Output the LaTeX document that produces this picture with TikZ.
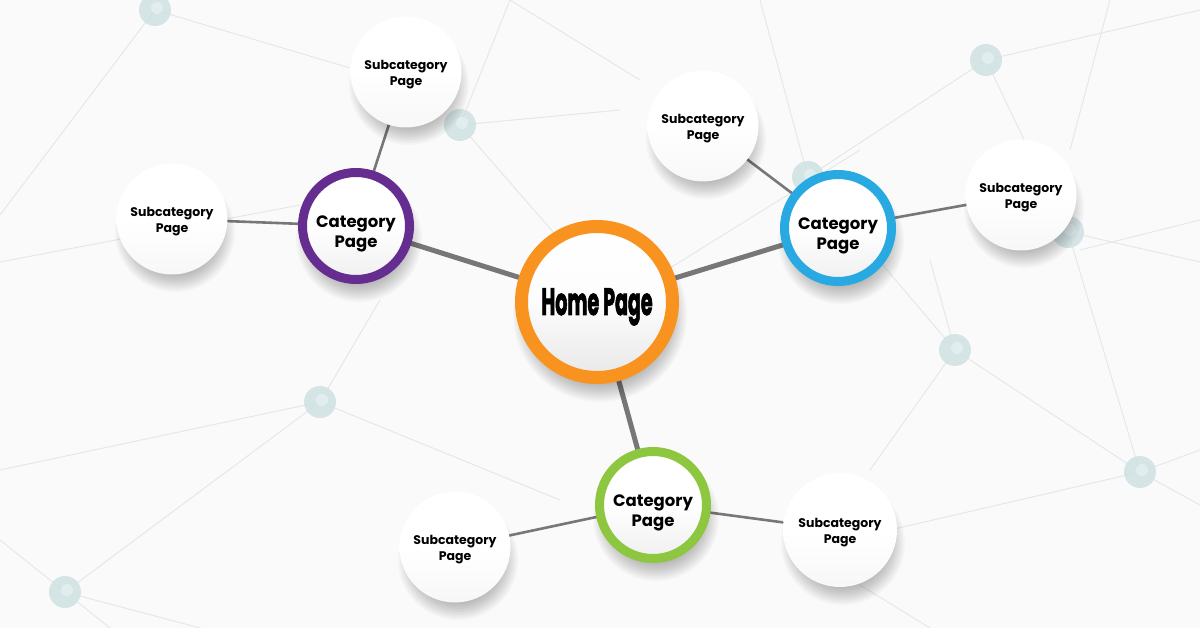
\documentclass[tikz,border=0pt]{standalone}
\usepackage{fontspec}
\usepackage{graphicx}
\setmainfont{Poppins}
\newfontfamily\homefont{Poppins}[BoldFeatures={FakeBold=2.5}]
\usetikzlibrary{calc}
\definecolor{bgc}{HTML}{FAFAFA}
\definecolor{netc}{HTML}{E6E8E8}
\definecolor{dotc}{HTML}{CFE2E3}
\definecolor{dotin}{HTML}{E4F0F0}
\definecolor{orng}{HTML}{F7931E}
\definecolor{purp}{HTML}{662D91}
\definecolor{blu}{HTML}{29A9E1}
\definecolor{grn}{HTML}{8DC63F}
\definecolor{conn}{HTML}{777777}
\newcommand{\twol}[4]{\raisebox{#3}[0pt][0pt]{\begin{tabular}{@{}c@{}}#1\\[#4]#2\end{tabular}}}
% soft drop shadow: centre coordinate, radius
\newcommand{\softsh}[2]{%
  \foreach \k in {0,...,14} {
    \fill[black, opacity=0.022] ($(#1)+(3,13)$) circle ({#2+8-1.6*\k});
  }}
\tikzset{
  net/.style={netc, line width=1pt},
  dotnode/.style={circle, minimum size=32pt, inner sep=0, fill=dotc, fill opacity=0.85},
  mainlink/.style={conn, line width=5pt},
  sublink/.style={conn, line width=2.6pt},
  sub/.style={circle, minimum size=111pt, inner sep=0, align=center,
    top color=white, bottom color=white!97!black, middle color=white,
    font=\fontsize{12.5}{14}\selectfont\bfseries},
  cat/.style={circle, minimum size=107pt, inner sep=0, align=center, line width=9pt,
    top color=white, bottom color=white!94!black, middle color=white,
    font=\fontsize{16.5}{19}\selectfont\bfseries},
  homenode/.style={circle, minimum size=151pt, inner sep=0, align=center, line width=13pt, draw=orng,
    top color=white, bottom color=white!91!black, middle color=white!99!black}
}
\begin{document}
\begin{tikzpicture}[x=1pt, y=-1pt]
\fill[bgc] (0,0) rectangle (1200,628);
\useasboundingbox (0,0) rectangle (1200,628);
% background network
\coordinate (d1) at (155,10);
\coordinate (d2) at (460,125);
\coordinate (d3) at (808,177);
\coordinate (d4) at (986,60);
\coordinate (d5) at (1068,232);
\coordinate (d6) at (955,350);
\coordinate (d7) at (1140,472);
\coordinate (d8) at (320,402);
\coordinate (d9) at (65,592);
\draw[net] (d1) -- (0,215);
\draw[net] (d1) -- (350,68);
\draw[net] (d2) -- (510,0);
\draw[net] (d2) -- (560,240);
\draw[net] (d2) -- (620,110);
\draw[net] (0,262) -- (300,205);
\draw[net] (d8) -- (380,300);
\draw[net] (d8) -- (0,470);
\draw[net] (d8) -- (d9);
\draw[net] (d8) -- (560,500);
\draw[net] (d9) -- (0,540);
\draw[net] (d9) -- (200,628);
\draw[net] (d9) -- (110,628);
\draw[net] (d3) -- (d4);
\draw[net] (d3) -- (760,0);
\draw[net] (d4) -- (1200,10);
\draw[net] (d4) -- (d5);
\draw[net] (1110,0) -- (1070,150);
\draw[net] (d5) -- (1200,262);
\draw[net] (d5) -- (d7);
\draw[net] (1080,250) -- (1200,220);
\draw[net] (d3) -- (d6);
\draw[net] (d6) -- (870,470);
\draw[net] (d6) -- (d7);
\draw[net] (d6) -- (930,260);
\draw[net] (d7) -- (890,530);
\draw[net] (d7) -- (1200,450);
\draw[net] (d7) -- (1200,505);
\draw[net] (860,585) -- (930,628);
\draw[net] (670,268) -- (860,150);
\draw[net] (510,0) -- (640,80);
\foreach \d in {d1,d2,d3,d4,d5,d6,d7,d8,d9} {
  \node[dotnode] at (\d) {};
  \fill[dotin, opacity=0.8] ($(\d)+(2,-2)$) circle (6pt);
}
% centres
\coordinate (ch) at (597,302);
\coordinate (cp) at (356,226);
\coordinate (cb) at (838,228);
\coordinate (cg) at (653,505);
\coordinate (s1) at (406,72);
\coordinate (s2) at (172,219);
\coordinate (s3) at (703,126);
\coordinate (s4) at (1021,195);
\coordinate (s5) at (455,547);
\coordinate (s6) at (840,530);
% connectors
\draw[mainlink] (ch) -- (cp);
\draw[mainlink] (ch) -- (cb);
\draw[mainlink] (ch) -- (cg);
\draw[sublink] (cp) -- (s1);
\draw[sublink] (cp) -- (s2);
\draw[sublink] (cb) -- (s3);
\draw[sublink] (cb) -- (s4);
\draw[sublink] (cg) -- (s5);
\draw[sublink] (cg) -- (s6);
% shadows
\foreach \c in {s1,s2,s3,s4,s5} {\softsh{\c}{52}}
\softsh{s6}{54}
\foreach \c in {cp,cb,cg} {\softsh{\c}{55}}
\softsh{ch}{79}
% nodes
\node[sub] (n1) at (s1) {\twol{Subcategory}{Page}{-5.5pt}{1.5pt}};
\node[sub] (n2) at (s2) {\twol{Subcategory}{Page}{-5.5pt}{1.5pt}};
\node[sub] (n3) at (s3) {\twol{Subcategory}{Page}{-5.5pt}{1.5pt}};
\node[sub] (n4) at (s4) {\twol{Subcategory}{Page}{-5.5pt}{1.5pt}};
\node[sub] (n5) at (s5) {\twol{Subcategory}{Page}{-5.5pt}{1.5pt}};
\node[sub, minimum size=114pt] (n6) at (s6) {\twol{Subcategory}{Page}{-5.5pt}{1.5pt}};
\node[cat, draw=purp] (np) at (cp) {\twol{Category}{Page}{-12pt}{1pt}};
\node[cat, draw=blu] (nb) at (cb) {\twol{Category}{Page}{-12pt}{1pt}};
\node[cat, draw=grn] (ng) at (cg) {\twol{Category}{Page}{-12pt}{1pt}};
\node[homenode] (nh) at (ch) {\raisebox{-13pt}[0pt][0pt]{\scalebox{0.5}[1]{\homefont\fontsize{38}{38}\selectfont\bfseries Home Page}}};
\end{tikzpicture}
\end{document}
